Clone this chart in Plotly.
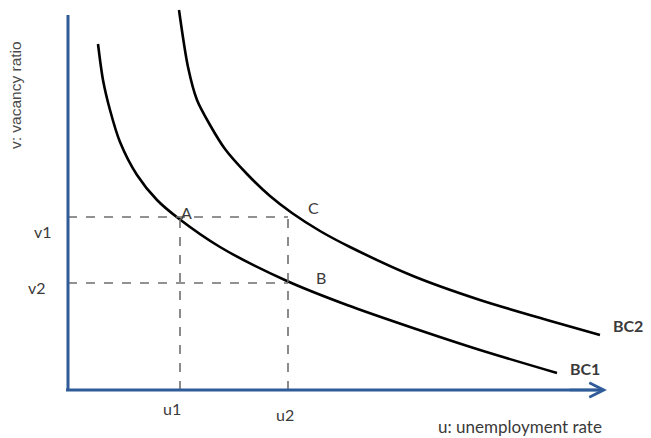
import plotly.graph_objects as go

# Beveridge curves (u: unemployment rate, v: vacancy ratio), arbitrary units
bc1_u = [3.0, 3.5, 4.2, 5.2, 6.9, 8.9, 11.0, 15.2, 21.9, 27.9, 34.5, 41.2, 48.9]
bc1_v = [34.6, 31.0, 28.0, 24.8, 21.5, 19.0, 17.2, 14.3, 10.9, 8.5, 6.2, 4.0, 1.7]
bc2_u = [11.1, 12.0, 12.9, 14.2, 15.7, 17.9, 20.2, 22.4, 25.2, 28.2, 34.5, 41.2, 47.9, 53.2]
bc2_v = [38.0, 32.3, 29.0, 26.5, 24.1, 21.6, 19.4, 17.7, 15.9, 14.3, 11.4, 9.0, 7.0, 5.5]

u_levels = {"u1": 11.2, "u2": 22.0}
v_levels = {"v1": 17.3, "v2": 10.7}

AXIS_BLUE = "#2f5b98"
TEXT = "#3a3a3a"
FONT = "Lato, 'Open Sans', sans-serif"

fig = go.Figure()
for uu, vv in [(bc1_u, bc1_v), (bc2_u, bc2_v)]:
    fig.add_trace(go.Scatter(x=uu, y=vv, mode="lines",
                             line=dict(color="black", width=2.6, shape="spline", smoothing=0.8),
                             hoverinfo="skip", showlegend=False))

# dashed guide lines
u2 = u_levels["u2"]
for name, v in v_levels.items():
    fig.add_shape(type="line", x0=0, x1=u2, y0=v, y1=v, line=dict(color="#6e6e6e", width=1.6, dash="dash"))
for name, u in u_levels.items():
    fig.add_shape(type="line", x0=u, x1=u, y0=0, y1=v_levels["v1"], line=dict(color="#6e6e6e", width=1.6, dash="dash"))

# axes
fig.add_shape(type="line", x0=0, x1=0, y0=-0.1, y1=37.5, line=dict(color=AXIS_BLUE, width=3))
fig.add_shape(type="line", x0=-0.2, x1=53.0, y0=0, y1=0, line=dict(color=AXIS_BLUE, width=3))
fig.add_annotation(x=53.9, y=0, ax=50.0, ay=0, xref="x", yref="y", axref="x", ayref="y", text="",
                   showarrow=True, arrowhead=5, arrowsize=1.1, arrowwidth=2.6, arrowcolor=AXIS_BLUE)

labels = [
    ("v1", -2.5, 15.9), ("v2", -3.1, 10.3),
    ("u1", 10.4, -1.8), ("u2", 21.7, -2.4),
    ("A", 11.8, 17.8), ("B", 25.3, 11.3), ("C", 24.5, 18.3),
]
for t, x, y in labels:
    fig.add_annotation(x=x, y=y, text=t, showarrow=False, xref="x", yref="y",
                       font=dict(family=FONT, size=16, color=TEXT))
fig.add_annotation(x=50.0, y=2.2, text="<b>BC1</b>", showarrow=False, xanchor="left",
                   font=dict(family=FONT, size=16, color=TEXT))
fig.add_annotation(x=54.3, y=6.5, text="<b>BC2</b>", showarrow=False, xanchor="left",
                   font=dict(family=FONT, size=16, color=TEXT))
fig.add_annotation(x=45.2, y=-3.6, text="u: unemployment rate", showarrow=False,
                   font=dict(family=FONT, size=17, color=TEXT))
fig.add_annotation(x=-5.3, y=29.5, text="v: vacancy ratio", showarrow=False, textangle=-90,
                   font=dict(family="'Liberation Sans Narrow', 'Liberation Sans', sans-serif", size=15.5, color="#4a4a4a"))

# the page places the figure 8px from the top-left corner, so the figure is 643x430
fig.update_layout(width=643, height=430, margin=dict(l=0, r=0, t=0, b=0),
                  plot_bgcolor="white", paper_bgcolor="white",
                  xaxis=dict(range=[-6.0, 58.3], visible=False, fixedrange=True),
                  yaxis=dict(range=[-4.8, 38.2], visible=False, fixedrange=True))
fig.write_html("out.html", config={"displayModeBar": False})
